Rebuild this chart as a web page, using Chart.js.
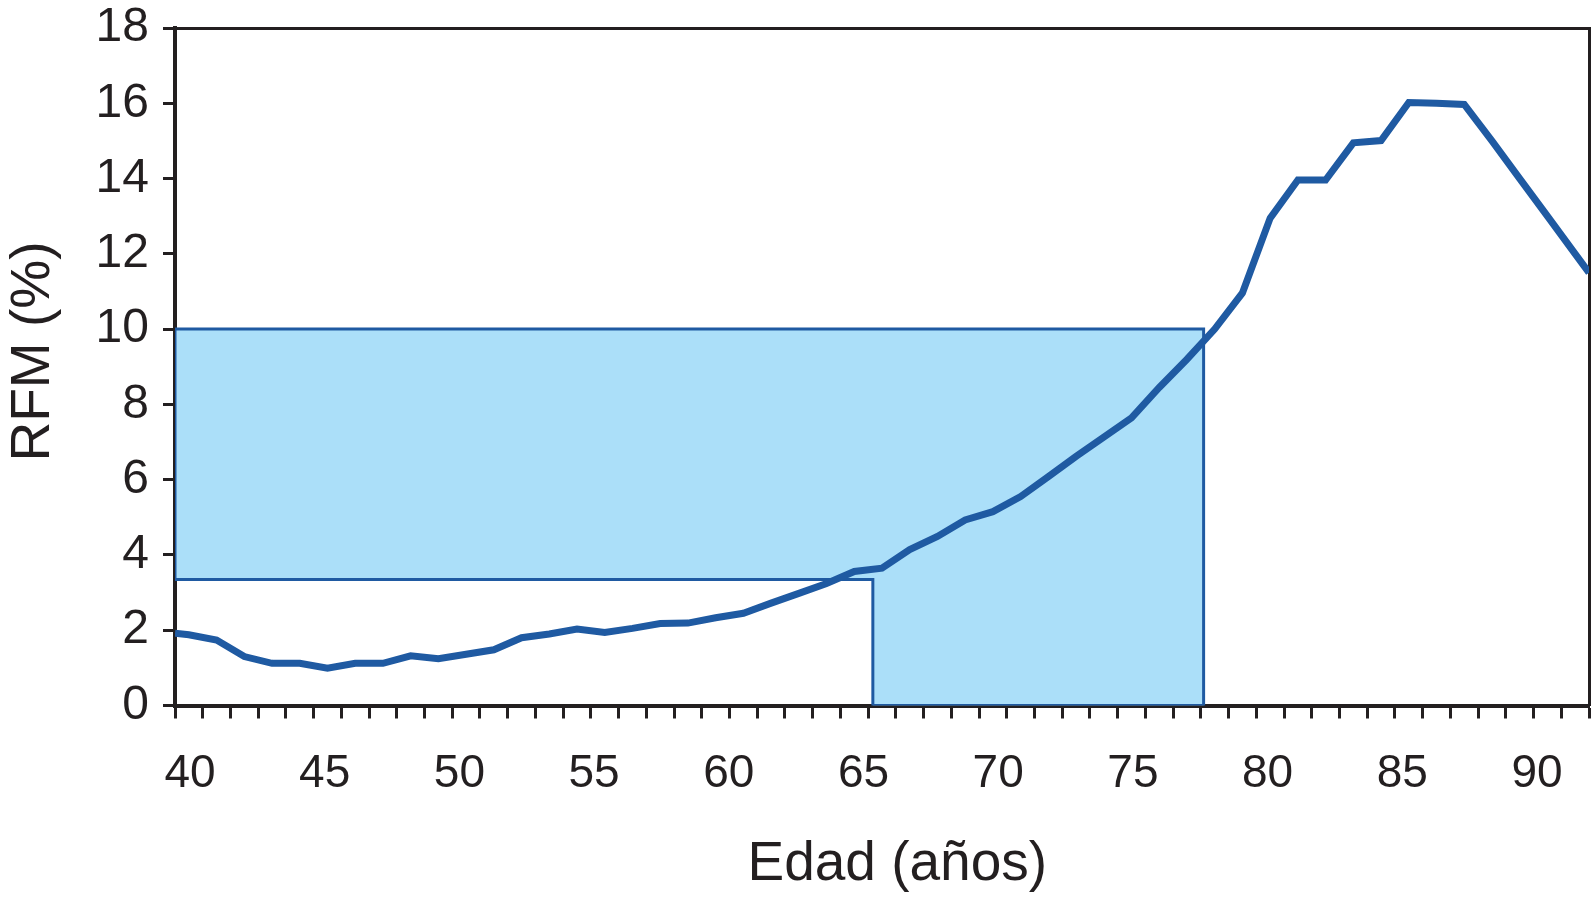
<!DOCTYPE html>
<html lang="es">
<head>
    <meta charset="UTF-8">
    <title>RFM (%) por edad</title>
    <script src="https://cdn.jsdelivr.net/npm/chart.js"></script>
    <style>
        body {
            margin: 0;
            background-color: #fff;
        }
        #rfmCanvas {
            display: block;
        }
    </style>
</head>
<body>
    <canvas id="rfmCanvas" width="1594" height="907"></canvas>

    <script>
        // RFM curve, one value per age (edges of the plot included)
        const ages = [39.5, 40, 41, 42, 43, 44, 45, 46, 47, 48, 49, 50, 51, 52, 53, 54, 55, 56, 57, 58, 59,
            60, 61, 62, 63, 64, 65, 66, 67, 68, 69, 70, 71, 72, 73, 74, 75, 76, 77, 78, 79,
            80, 81, 82, 83, 84, 85, 86, 87, 88, 89, 90, 90.5];
        const rfm = [1.92, 1.88, 1.74, 1.30, 1.12, 1.12, 0.99, 1.12, 1.12, 1.32, 1.24, 1.36, 1.48, 1.80, 1.90, 2.03, 1.94, 2.05, 2.18, 2.19, 2.33,
            2.45, 2.72, 2.98, 3.24, 3.56, 3.65, 4.14, 4.49, 4.93, 5.15, 5.55, 6.08, 6.62, 7.13, 7.64, 8.45, 9.20, 10.00, 10.96, 12.95,
            13.96, 13.96, 14.95, 15.01, 16.02, 16.00, 15.97, 15.0, 14.0, 13.0, 12.0, 11.5];

        // Shaded zone (outline of the L shape)
        const zoneAges = [39.5, 76.6, 76.6, 64.67, 64.67, 39.5, 39.5];
        const zoneRfm = [10, 10, 0, 0, 3.35, 3.35, 10];

        // Axis labels
        const ageLabels = [40, 45, 50, 55, 60, 65, 70, 75, 80, 85, 90];
        const rfmTicks = [0, 2, 4, 6, 8, 10, 12, 14, 16, 18];

        const ink = '#231f20';
        const lineBlue = '#1f5aa2';
        const fontFamily = '"Liberation Sans", Arial, sans-serif';

        // keep the plot box where the layout puts it (no extra room for label overflow)
        function noOverflow(scale) {
            scale.paddingTop = 0;
            scale.paddingBottom = 0;
            scale.paddingLeft = 0;
            scale.paddingRight = 0;
        }

        const ctx = document.getElementById('rfmCanvas').getContext('2d');

        const rfmChart = new Chart(ctx, {
            type: 'line',
            data: {
                datasets: [
                    {
                        label: 'Zona',
                        data: zoneAges.map((a, i) => ({ x: a, y: zoneRfm[i] })),
                        borderColor: lineBlue,
                        borderWidth: 3,
                        backgroundColor: '#abdff9',
                        fill: 'shape',
                        pointRadius: 0,
                        tension: 0,
                        order: 2
                    },
                    {
                        label: 'RFM',
                        data: ages.map((a, i) => ({ x: a, y: rfm[i] })),
                        borderColor: lineBlue,
                        borderWidth: 7,
                        fill: false,
                        pointRadius: 0,
                        tension: 0,
                        clip: 0,
                        order: 1
                    }
                ]
            },
            options: {
                responsive: false,
                devicePixelRatio: 1,
                animation: false,
                layout: {
                    padding: { top: 28, right: 5, bottom: 0, left: 0 }
                },
                plugins: {
                    legend: { display: false },
                    tooltip: { enabled: false }
                },
                scales: {
                    // tick marks of the age axis
                    x: {
                        type: 'linear',
                        position: 'bottom',
                        min: 39.5,
                        max: 90.5,
                        z: 1,
                        afterBuildTicks: (scale) => {
                            const t = [];
                            for (let v = scale.min; v <= scale.max + 0.01; v += 1) t.push({ value: v });
                            scale.ticks = t;
                        },
                        afterFit: (scale) => { scale.height = 14; noOverflow(scale); },
                        ticks: { display: false },
                        grid: {
                            drawOnChartArea: false,
                            drawTicks: true,
                            tickLength: 13,
                            tickWidth: 3,
                            tickColor: ink
                        },
                        border: { display: true, color: ink, width: 4 }
                    },
                    // age labels and title
                    xl: {
                        type: 'linear',
                        position: 'bottom',
                        min: 39.443,
                        max: 91.93,
                        afterBuildTicks: (scale) => {
                            scale.ticks = ageLabels.map(v => ({ value: v }));
                        },
                        afterFit: (scale) => { scale.height = 187.5; noOverflow(scale); },
                        ticks: {
                            autoSkip: false,
                            maxRotation: 0,
                            padding: 27,
                            color: ink,
                            font: { family: fontFamily, size: 46 }
                        },
                        grid: { display: false, drawTicks: false },
                        border: { display: false },
                        title: {
                            display: true,
                            text: '  Edad (años)',
                            color: ink,
                            font: { family: fontFamily, size: 55, lineHeight: 1.2 },
                            padding: { top: 0, bottom: 9 }
                        }
                    },
                    xTop: {
                        type: 'linear',
                        position: 'top',
                        min: 39.5,
                        max: 90.5,
                        afterFit: (scale) => { scale.height = 0; noOverflow(scale); },
                        ticks: { display: false },
                        grid: { drawOnChartArea: false, drawTicks: false },
                        border: { display: true, color: ink, width: 3 }
                    },
                    y: {
                        type: 'linear',
                        position: 'left',
                        min: 0,
                        max: 18,
                        z: 1,
                        afterBuildTicks: (scale) => {
                            scale.ticks = rfmTicks.map(v => ({ value: v }));
                        },
                        afterFit: (scale) => { scale.width = 175; noOverflow(scale); },
                        ticks: {
                            padding: 14,
                            color: ink,
                            font: { family: fontFamily, size: 48 }
                        },
                        grid: {
                            drawOnChartArea: false,
                            drawTicks: true,
                            tickLength: 12,
                            tickWidth: 3,
                            tickColor: ink
                        },
                        border: { display: true, color: ink, width: 4 },
                        title: {
                            display: true,
                            text: '  RFM (%)',
                            color: ink,
                            font: { family: fontFamily, size: 55, lineHeight: 1.2 },
                            padding: { top: 1, bottom: 0 }
                        }
                    },
                    yRight: {
                        type: 'linear',
                        position: 'right',
                        min: 0,
                        max: 18,
                        afterFit: (scale) => { scale.width = 0; noOverflow(scale); },
                        ticks: { display: false },
                        grid: { drawOnChartArea: false, drawTicks: false },
                        border: { display: true, color: ink, width: 3 }
                    }
                }
            }
        });
    </script>
</body>
</html>
